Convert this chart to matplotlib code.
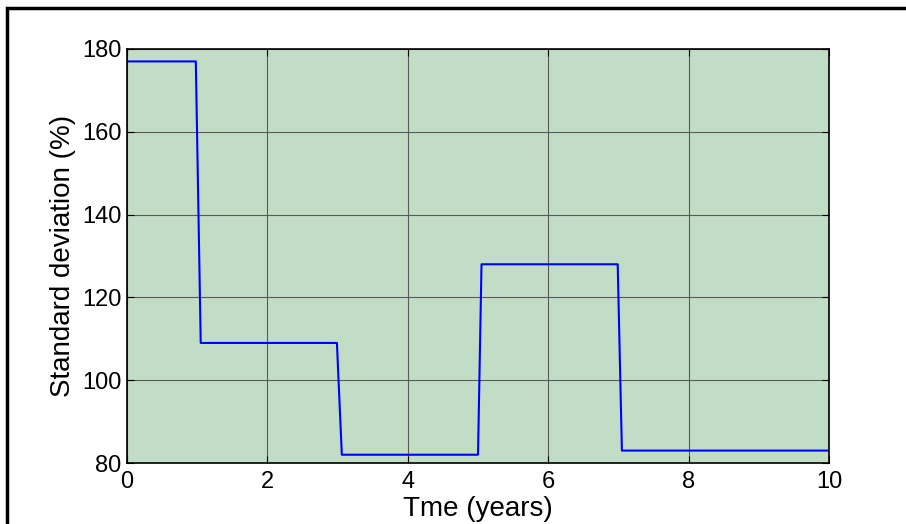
import matplotlib.pyplot as plt
from matplotlib.patches import Rectangle

# step series (slightly slanted transitions as in the original sampling)
time = [0, 0.98, 1.05, 2.99, 3.06, 5.0, 5.05, 6.99, 7.05, 10]
std_dev = [177, 177, 109, 109, 82, 82, 128, 128, 83, 83]

xticks = [0, 2, 4, 6, 8, 10]
yticks = [80, 100, 120, 140, 160, 180]

plt.rcParams['font.family'] = ['Liberation Sans', 'DejaVu Sans']

fig = plt.figure(figsize=(9.06, 5.24), dpi=100)
ax = fig.add_axes([0.1402, 0.1164, 0.7748, 0.7901])

# black frame around the figure (runs off the right/bottom edge)
fig.patches.append(Rectangle((7 / 906, -0.05), 1.1, 1 - 8 / 524 + 0.05,
                             transform=fig.transFigure, fill=False,
                             edgecolor='black', linewidth=2.5))

ax.set_facecolor('#c1ddc6')
ax.plot(time, std_dev, color='#0000ff', linewidth=1.5)

ax.set_xlim(0, 10)
ax.set_ylim(80, 180)
ax.set_xticks(xticks)
ax.set_yticks(yticks)
ax.grid(True, color='#5a5a5a', linewidth=0.8, linestyle='-')
ax.tick_params(direction='in', top=True, right=True, labelsize=17, length=5)
ax.tick_params(axis='x', pad=6)
ax.tick_params(axis='y', pad=4)

for s in ax.spines.values():
    s.set_linewidth(1.2)

ax.set_xlabel('Tme (years)', fontsize=20, labelpad=2)
ax.set_ylabel('Standard deviation (%)', fontsize=20, labelpad=4)

fig.savefig('out.png', dpi=100)
